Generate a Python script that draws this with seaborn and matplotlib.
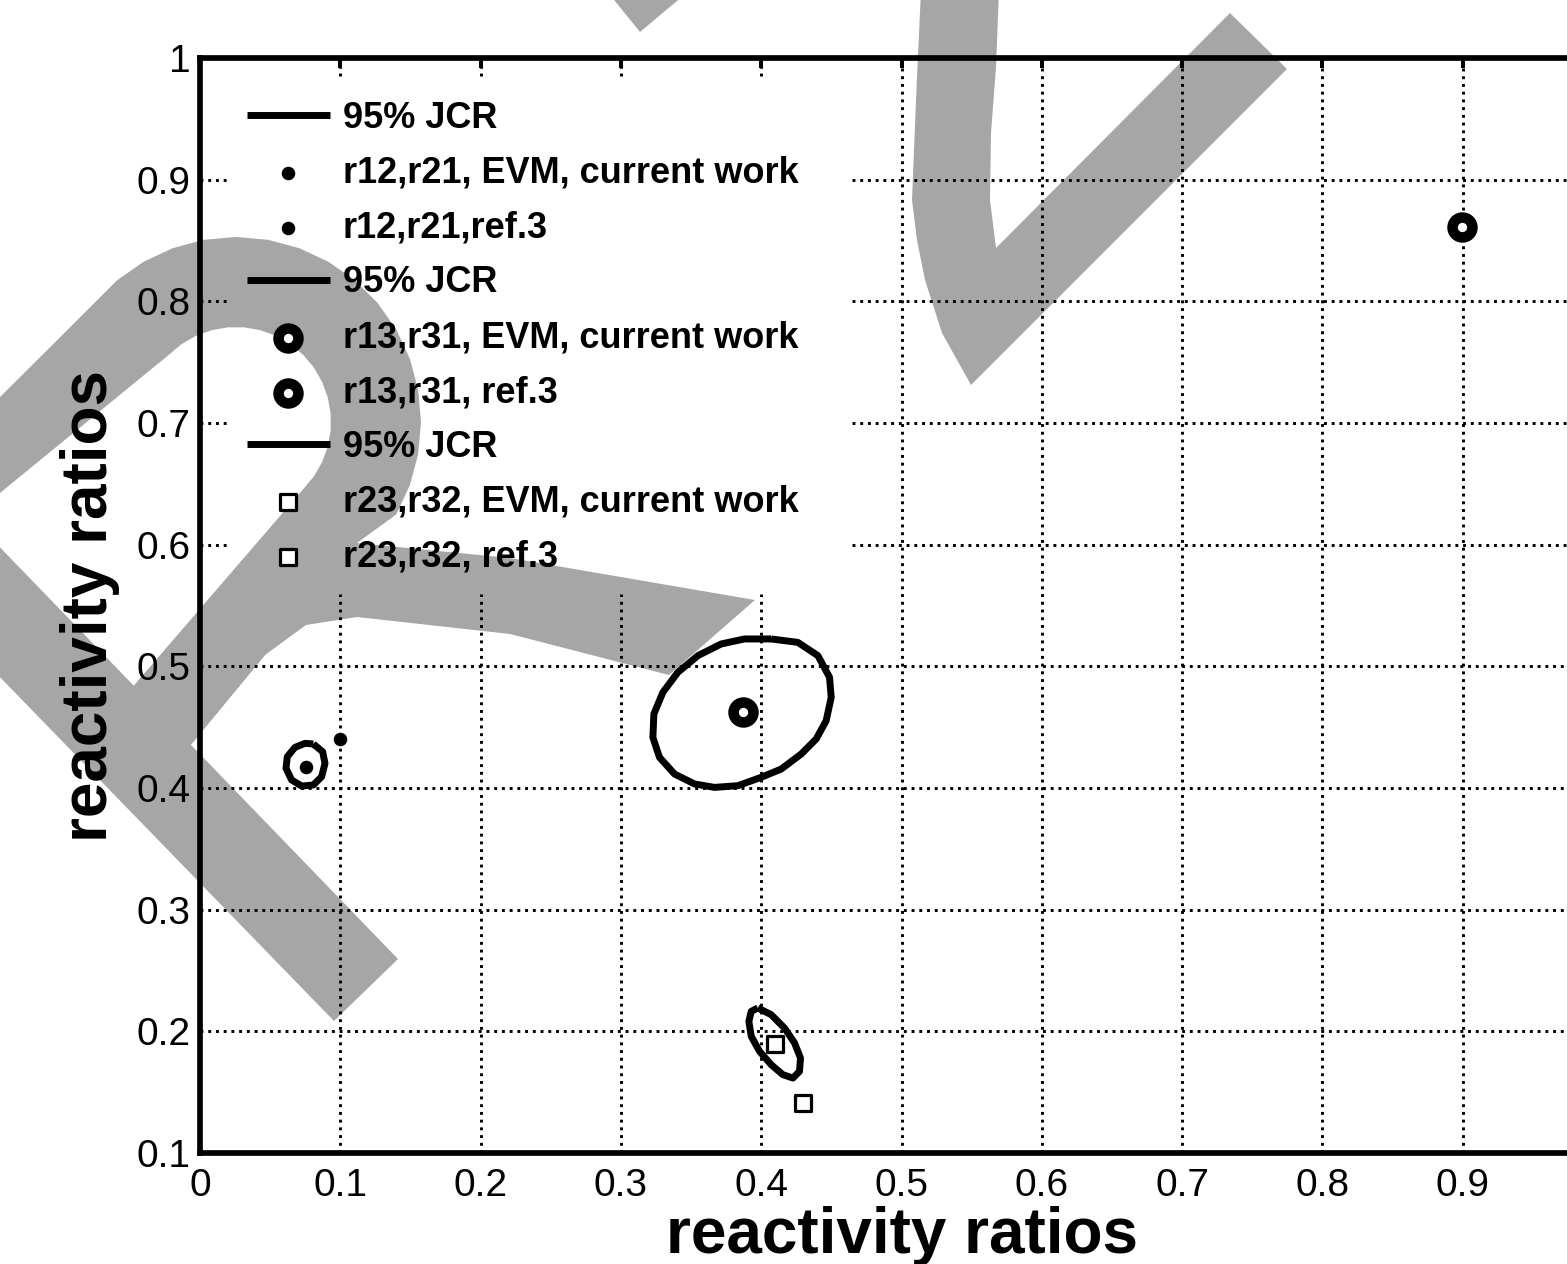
import numpy as np
import matplotlib
matplotlib.use("Agg")
import matplotlib.pyplot as plt
from matplotlib.patches import Polygon
import seaborn as sns

# ---------------- data ----------------
# 95% JCR contour r12,r21
jcr12_x = [0.0808, 0.0874, 0.0891, 0.0867, 0.0808, 0.0725, 0.0653, 0.0613, 0.0622, 0.0677, 0.0748, 0.0808]
jcr12_y = [0.4362, 0.4298, 0.4203, 0.4093, 0.4025, 0.4016, 0.4066, 0.4162, 0.4257, 0.4334, 0.4367, 0.4362]
# 95% JCR contour r13,r31
jcr13_x = [0.4071, 0.4261, 0.4404, 0.4487, 0.4499, 0.4463, 0.4392, 0.4285, 0.4143, 0.4000, 0.3834,
           0.3667, 0.3525, 0.3382, 0.3275, 0.3228, 0.3235, 0.3299, 0.3406, 0.3549, 0.3715, 0.3881, 0.4071]
jcr13_y = [0.5225, 0.5197, 0.5088, 0.4910, 0.4745, 0.4553, 0.4403, 0.4279, 0.4156, 0.4088, 0.4019,
           0.4005, 0.4033, 0.4115, 0.4252, 0.4416, 0.4608, 0.4786, 0.4951, 0.5088, 0.5184, 0.5225, 0.5225]
# 95% JCR contour r23,r32
jcr23_x = [0.3976, 0.4071, 0.4166, 0.4238, 0.4280, 0.4273, 0.4226, 0.4154, 0.4071, 0.3988, 0.3929, 0.3912, 0.3929, 0.3976]
jcr23_y = [0.2192, 0.2137, 0.2027, 0.1904, 0.1781, 0.1671, 0.1616, 0.1644, 0.1726, 0.1836, 0.1959, 0.2082, 0.2164, 0.2192]

# point estimates
r12_evm_x, r12_evm_y = [0.0753], [0.4175]
r12_ref_x, r12_ref_y = [0.0995], [0.4405]
r13_evm_x, r13_evm_y = [0.3872], [0.4622]
r13_ref_x, r13_ref_y = [0.8995], [0.8610]
r23_evm_x, r23_evm_y = [0.4100], [0.1899]
r23_ref_x, r23_ref_y = [0.4297], [0.1411]

labels = ["95% JCR", "r12,r21, EVM, current work", "r12,r21,ref.3",
          "95% JCR", "r13,r31, EVM, current work", "r13,r31, ref.3",
          "95% JCR", "r23,r32, EVM, current work", "r23,r32, ref.3"]

x_ticks = [0, 0.1, 0.2, 0.3, 0.4, 0.5, 0.6, 0.7, 0.8, 0.9]
x_ticklabels = ["0", "0.1", "0.2", "0.3", "0.4", "0.5", "0.6", "0.7", "0.8", "0.9"]
y_ticks = [0.1, 0.2, 0.3, 0.4, 0.5, 0.6, 0.7, 0.8, 0.9, 1.0]
y_ticklabels = ["0.1", "0.2", "0.3", "0.4", "0.5", "0.6", "0.7", "0.8", "0.9", "1"]
axis_label = "reactivity ratios"

# ---------------- style ----------------
sns.set_style("white")
plt.rcParams['font.family'] = ['Liberation Sans', 'DejaVu Sans']
plt.rcParams['axes.linewidth'] = 4.1
for k in ("text.color", "axes.labelcolor", "xtick.color", "ytick.color", "axes.edgecolor"):
    plt.rcParams[k] = "black"

W, H = 1567, 1264
fig = plt.figure(figsize=(W / 100, H / 100), dpi=100)
fig.patch.set_facecolor("white")
ax = fig.add_axes([200 / W, 1 - 1153 / H, 1403 / W, 1095 / H])
ax.set_facecolor("none")

# ---------------- background watermark (decoration, in figure pixels) ----------------
wm_color = "#a6a6a6"
cx, cy, r_out, r_in = 236, 422, 185, 95
th_out = np.radians(np.arange(140, -31, -10))
th_in = np.radians(np.arange(-45, 141, 10))
arch = [(-40, 437)]
arch += [(cx + r_out * np.cos(t), cy - r_out * np.sin(t)) for t in th_out]
arch += [(357, 543), (265, 655), (189, 747), (130, 690)]
arch += [(cx + r_in * np.cos(t), cy - r_in * np.sin(t)) for t in th_in]
arch += [(0, 493), (-40, 529)]
wm_shapes = [
    [(-40, 506), (398, 959), (334, 1021), (-40, 636)],
    arch,
    [(357, 543), (510, 558), (755, 600), (669, 675), (510, 634), (357, 617), (306, 625), (265, 655),
     (189, 747), (296, 525)],
    [(921, -10), (916, 100), (912, 200), (917, 240), (925, 280), (942, 333), (971, 385), (1287, 69),
     (1230, 13), (996, 248), (990, 200), (991, 133), (996, 67), (999, -10)],
    [(606, -10), (640, 32), (690, -10)],
]
for shp in wm_shapes:
    pts = [(px / W, 1 - py / H) for px, py in shp]
    fig.patches.append(Polygon(pts, closed=True, transform=fig.transFigure, facecolor=wm_color,
                               edgecolor="none", zorder=-5))

handles = []
LW = 5.0

def jcr(xs, ys):
    sns.lineplot(x=xs, y=ys, sort=False, estimator=None, color="black", linewidth=LW, ax=ax,
                 legend=False, zorder=3)
    ln = ax.lines[-1]
    ln.set_linewidth(LW)
    ln.set_solid_joinstyle("round")
    ln.set_solid_capstyle("butt")
    handles.append(ln)

def pts_dot(xs, ys):
    sns.scatterplot(x=xs, y=ys, marker="o", s=95, color="black", edgecolor="black", linewidth=0,
                    ax=ax, legend=False, zorder=4)
    handles.append(ax.collections[-1])

def pts_ring(xs, ys):
    sns.scatterplot(x=xs, y=ys, marker="o", s=205, color="white", edgecolor="black", linewidth=7.6,
                    ax=ax, legend=False, zorder=4)
    handles.append(ax.collections[-1])

def pts_square(xs, ys):
    sns.scatterplot(x=xs, y=ys, marker="s", s=121, color="white", edgecolor="black", linewidth=2.3,
                    ax=ax, legend=False, zorder=4)
    handles.append(ax.collections[-1])

jcr(jcr12_x, jcr12_y)
pts_dot(r12_evm_x, r12_evm_y)
pts_dot(r12_ref_x, r12_ref_y)
jcr(jcr13_x, jcr13_y)
pts_ring(r13_evm_x, r13_evm_y)
pts_ring(r13_ref_x, r13_ref_y)
jcr(jcr23_x, jcr23_y)
pts_square(r23_evm_x, r23_evm_y)
pts_square(r23_ref_x, r23_ref_y)

ax.set_xlim(0, 1)
ax.set_ylim(0.1, 1)
ax.set_xticks(x_ticks)
ax.set_xticklabels(x_ticklabels)
ax.set_yticks(y_ticks)
ax.set_yticklabels(y_ticklabels)
ax.tick_params(direction="in", length=7, width=2.9, top=True, right=True, labelsize=28, colors="black")
ax.tick_params(axis="x", pad=10.5)
ax.tick_params(axis="y", pad=7)
for sp in ax.spines.values():
    sp.set_visible(True)
    sp.set_color("black")
    sp.set_linewidth(4.1)
    sp.set_zorder(6)

ax.set_xlabel(axis_label, fontsize=46, fontweight="bold", labelpad=1.5, color="black")
ax.set_ylabel(axis_label, fontsize=46, fontweight="bold", labelpad=11.5, color="black")

leg = ax.legend(handles, labels, loc="upper left", bbox_to_anchor=(0.020, 0.978), borderaxespad=0,
                frameon=False, prop=dict(family=["Liberation Sans", "DejaVu Sans"], weight="bold", size=26),
                handlelength=2.29, handletextpad=0.36, labelspacing=0.55, borderpad=0.52,
                scatterpoints=1)
for t in leg.get_texts():
    t.set_color("black")

# ---------------- dotted grid, kept out of the legend box as in the original ----------------
fig.canvas.draw()
bb = leg.get_window_extent().transformed(ax.transAxes.inverted())
bx0, bx1, by0, by1 = bb.x0, bb.x1 + 0.025, bb.y0, min(bb.y1 + 0.006, 0.985)
grid_kw = dict(color="black", linestyle=":", linewidth=2.1, zorder=1)
for xv in x_ticks[1:]:
    if xv < bx1:
        ax.axvline(xv, 0, by0, **grid_kw)
        ax.axvline(xv, by1, 1, **grid_kw)
    else:
        ax.axvline(xv, 0, 1, **grid_kw)
for yv in y_ticks[1:-1]:
    yf = (yv - 0.1) / 0.9
    if yf > by0:
        ax.axhline(yv, bx1, 1, **grid_kw)
        ax.axhline(yv, 0, bx0, **grid_kw)
    else:
        ax.axhline(yv, 0, 1, **grid_kw)

fig.savefig("out.png", dpi=100)
